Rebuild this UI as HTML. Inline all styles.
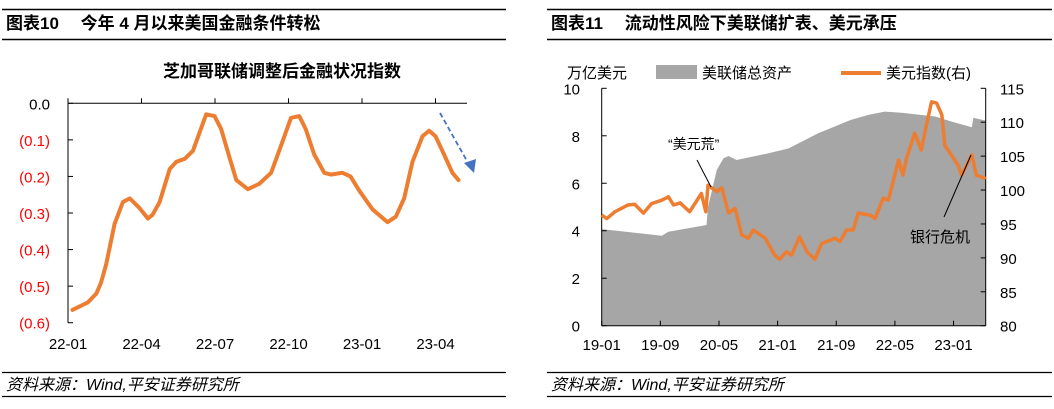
<!DOCTYPE html>
<html><head><meta charset="utf-8"><style>
body{margin:0;background:#fff;width:1054px;height:409px;overflow:hidden;font-family:"Liberation Sans","Noto Sans CJK SC",sans-serif}
svg{position:absolute;left:0;top:0}
</style></head><body>
<svg width="1054" height="409">
<g>
<line x1="2" y1="9.5" x2="506" y2="9.5" stroke="#000" stroke-width="1.5"/>
<line x1="2" y1="39.5" x2="506" y2="39.5" stroke="#000" stroke-width="1.5"/>
<text x="6" y="29" font-size="17" font-weight="bold">图表10　 今年 4 月以来美国金融条件转松</text>
<line x1="2" y1="372.5" x2="506" y2="372.5" stroke="#000" stroke-width="1.2"/>
<line x1="2" y1="396.5" x2="506" y2="396.5" stroke="#000" stroke-width="1.2"/>
<text x="6" y="390" font-size="16" font-style="italic">资料来源：Wind,平安证券研究所</text>
</g>
<g>
<line x1="547" y1="9.5" x2="1052" y2="9.5" stroke="#000" stroke-width="1.5"/>
<line x1="547" y1="39.5" x2="1052" y2="39.5" stroke="#000" stroke-width="1.5"/>
<text x="551" y="29" font-size="17" font-weight="bold">图表11　 流动性风险下美联储扩表、美元承压</text>
<line x1="547" y1="372.5" x2="1052" y2="372.5" stroke="#000" stroke-width="1.2"/>
<line x1="547" y1="396.5" x2="1052" y2="396.5" stroke="#000" stroke-width="1.2"/>
<text x="551" y="390" font-size="16" font-style="italic">资料来源：Wind,平安证券研究所</text>
</g>
<g id="left"></g>
<g id="right"></g>
</svg>
<script>
// Left chart data (month index from 2022-01)
const nfciMonths=[0.18,0.8,1.16,1.35,1.56,1.9,2.24,2.52,2.9,3.26,3.45,3.74,4.15,4.42,4.76,5.1,5.64,5.98,6.25,6.6,6.87,7.34,7.81,8.29,8.7,9.1,9.44,9.7,10.05,10.46,10.73,11.2,11.53,11.9,12.43,13.04,13.38,13.72,14.06,14.47,14.74,15.0,15.35,15.69,15.94];
const nfciValues=[-0.565,-0.545,-0.52,-0.49,-0.44,-0.33,-0.27,-0.26,-0.285,-0.315,-0.305,-0.27,-0.18,-0.16,-0.152,-0.13,-0.03,-0.035,-0.07,-0.15,-0.21,-0.235,-0.22,-0.19,-0.115,-0.04,-0.035,-0.07,-0.14,-0.19,-0.195,-0.19,-0.2,-0.24,-0.29,-0.325,-0.31,-0.26,-0.16,-0.09,-0.075,-0.09,-0.14,-0.19,-0.21];
const leftYTicks=[0,-0.1,-0.2,-0.3,-0.4,-0.5,-0.6];
const leftYLabels=["0.0","(0.1)","(0.2)","(0.3)","(0.4)","(0.5)","(0.6)"];
const leftXTicks=[0,3,6,9,12,15];
const leftXLabels=["22-01","22-04","22-07","22-10","23-01","23-04"];

// Right chart data (month index from 2019-01)
const fedMonths=[0,8.2,9.1,14.3,14.5,15.7,16.6,17.3,18.4,22.7,25.5,29.5,34,36.4,38.6,40.9,45.5,47.7,50.5,50.7,52.4];
const fedAssets=[4.07,3.79,3.96,4.24,5.0,6.56,7.05,7.15,6.98,7.26,7.47,8.10,8.67,8.88,9.02,8.97,8.81,8.6,8.36,8.76,8.64];
const dxyMonths=[0,0.7,1.8,3.6,4.5,5.7,6.8,8.2,9.1,9.8,10.7,12,13.6,14.2,14.5,15.7,16.4,17.3,18.2,19.1,20,20.7,22.3,23.6,24.3,25.2,25.9,27,28,29.1,30,31.8,32.5,33.4,34.3,35,36.6,37.3,38.4,39.1,40.5,41.1,41.6,42.7,43.6,44.3,45,45.7,46.4,46.8,48.6,49.1,50.5,51.1,52.4];
const dxyValues=[96.3,95.8,96.8,97.8,97.9,96.6,98.0,98.5,99.0,97.8,98.1,96.8,99.5,96.8,100.7,99.8,100.3,96.6,97.3,93.4,92.9,94.1,92.9,90.4,89.8,90.9,90.4,93.1,90.9,89.8,92.1,92.9,92.4,94.1,94.1,96.6,96.3,95.8,98.8,98.5,104.4,102.2,104.7,108.4,105.9,109.6,113.0,112.8,111.1,106.6,103.7,102.2,105.2,102.2,101.7];
const rightLTicks=[0,2,4,6,8,10];
const rightRTicks=[80,85,90,95,100,105,110,115];
const rightXTicks=[0,8,16,24,32,40,48];
const rightXLabels=["19-01","19-09","20-05","21-01","21-09","22-05","23-01"];

const NS="http://www.w3.org/2000/svg";
function mk(parent,tag,attrs,txt){const e=document.createElementNS(NS,tag);for(const k in attrs)e.setAttribute(k,attrs[k]);if(txt!==undefined)e.textContent=txt;parent.appendChild(e);return e;}

// ---- Left chart
const L=document.getElementById('left');
const lx=m=>68+m*24.5;
const ly=v=>103.3-v/0.1*36.57;
let t=mk(L,'text',{x:282,y:77,'font-size':17,'font-weight':'bold','text-anchor':'middle'},'芝加哥联储调整后金融状况指数');


let a=mk(L,'line',{x1:68,y1:ly(0),x2:68,y2:ly(-0.6),stroke:'#000','stroke-width':1});


a=mk(L,'line',{x1:68,y1:ly(0),x2:467,y2:ly(0),stroke:'#000','stroke-width':1});


leftYTicks.forEach((v,i)=>{
  mk(L,'line',{x1:68,y1:ly(v),x2:73,y2:ly(v),stroke:'#000'});
  const e=mk(L,'text',{x:50,y:ly(v)+6,'font-size':15,'text-anchor':'end',fill:v<0?'#f00':'#000'},leftYLabels[i]);
  
  
});
leftXTicks.forEach((m,i)=>{
  mk(L,'line',{x1:lx(m),y1:ly(0),x2:lx(m),y2:ly(0)-5,stroke:'#000'});
  const e=mk(L,'text',{x:lx(m),y:349,'font-size':15,'text-anchor':'middle'},leftXLabels[i]);
  
  
});
let p=mk(L,'polyline',{points:nfciMonths.map((m,i)=>lx(m)+','+ly(nfciValues[i])).join(' '),fill:'none',stroke:'#ED7D31','stroke-width':4,'stroke-linejoin':'round','stroke-linecap':'round'});


let ar=mk(L,'line',{x1:440,y1:113,x2:467,y2:161,stroke:'#4472C4','stroke-width':1.8,'stroke-dasharray':'5,3'});


mk(L,'polygon',{points:'474,173 464,163 476,159',fill:'#4472C4'});

// ---- Right chart
const R=document.getElementById('right');
const rx=m=>601.7+m*7.33;
const ryl=v=>325.7-v*23.74;
const ryr=v=>325.7-(v-80)*6.783;
let area=mk(R,'polygon',{points:rx(0)+','+ryl(0)+' '+fedMonths.map((m,i)=>rx(m)+','+ryl(fedAssets[i])).join(' ')+' '+rx(fedMonths[fedMonths.length-1])+','+ryl(0),fill:'#A6A6A6'});


mk(R,'line',{x1:601.7,y1:ryl(0),x2:601.7,y2:ryl(10),stroke:'#000'});
mk(R,'line',{x1:601.7,y1:ryl(0),x2:985.7,y2:ryl(0),stroke:'#000'});
mk(R,'line',{x1:985.7,y1:ryl(0),x2:985.7,y2:ryl(10),stroke:'#000'});
rightLTicks.forEach(v=>{
  mk(R,'line',{x1:601.7,y1:ryl(v),x2:606.7,y2:ryl(v),stroke:'#000'});
  const e=mk(R,'text',{x:580,y:ryl(v)+6,'font-size':15,'text-anchor':'end'},String(v));
  
  
});
rightRTicks.forEach(v=>{
  mk(R,'line',{x1:980.7,y1:ryr(v),x2:985.7,y2:ryr(v),stroke:'#000'});
  const e=mk(R,'text',{x:1000,y:ryr(v)+6,'font-size':15},String(v));
  
  
});
rightXTicks.forEach((m,i)=>{
  mk(R,'line',{x1:rx(m),y1:ryl(0),x2:rx(m),y2:ryl(0)-5,stroke:'#000'});
  const e=mk(R,'text',{x:rx(m),y:350,'font-size':15,'text-anchor':'middle'},rightXLabels[i]);
  
  
});
let d=mk(R,'polyline',{points:dxyMonths.map((m,i)=>rx(m)+','+ryr(dxyValues[i])).join(' '),fill:'none',stroke:'#ED7D31','stroke-width':3.5,'stroke-linejoin':'round'});


let u=mk(R,'text',{x:567,y:78,'font-size':15},'万亿美元');


let sw=mk(R,'rect',{x:656,y:65,width:41,height:14,fill:'#A6A6A6'});


let lt=mk(R,'text',{x:702,y:78,'font-size':15},'美联储总资产');


let ls=mk(R,'line',{x1:841,y1:73,x2:881,y2:73,stroke:'#ED7D31','stroke-width':4});


let l2=mk(R,'text',{x:886,y:78,'font-size':15},'美元指数(右)');


let n1=mk(R,'text',{x:668,y:149,'font-size':14},'“美元荒”');


mk(R,'line',{x1:697,y1:160,x2:711,y2:187,stroke:'#000'});
let n2=mk(R,'text',{x:910,y:242,'font-size':15},'银行危机');


mk(R,'line',{x1:944,y1:217,x2:971,y2:155,stroke:'#000'});
</script>
</body></html>
